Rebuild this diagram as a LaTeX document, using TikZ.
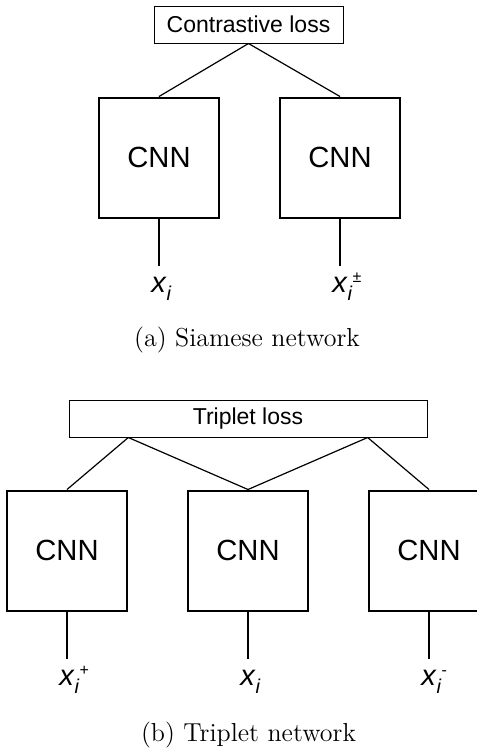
\documentclass[tikz,border=0pt]{standalone}
\usepackage{fontspec}
\usepackage{tikz}
\usetikzlibrary{positioning,calc}
\newfontfamily\arialfont{Liberation Sans}
\newcommand{\inlab}[1]{\textit{x}\rlap{\raisebox{-4pt}{\fontsize{10}{10}\selectfont\textit{i}}\raisebox{5pt}{\fontsize{8}{8}\selectfont #1}}}

\begin{document}
\begin{tikzpicture}[
			x=0.5pt,y=-0.5pt,
			node distance=29.5pt,
			lossbox/.style={
				draw,
				line width=0.5pt,
				inner sep=0pt,
				minimum height=18.5pt,
				font=\arialfont\fontsize{11.5}{13}\selectfont
			},
			cnnbox/.style={
				draw,
				line width=1pt,
				inner sep=0pt,
				minimum width=60pt,
				minimum height=60pt,
				font=\arialfont\fontsize{14.6}{16}\selectfont
			},
			inlabel/.style={
				inner sep=0pt,
				text height=13.5pt,
				text depth=0pt,
				font=\arialfont\fontsize{14.5}{16}\selectfont
			},
			caption/.style={font=\fontsize{13}{15}\selectfont},
			link/.style={line width=0.6pt},
			feed/.style={line width=1pt}
			]
			\useasboundingbox (0,0) rectangle (477,751);
			
			\node[lossbox,minimum width=94.5pt] (closs) at (248.5,24.5) {Contrastive loss};
			
			\node[cnnbox,below=26.5pt of closs,xshift=-44.75pt] (cnnA) {CNN};
			\node[cnnbox,right=of cnnA] (cnnB) {CNN};
			
			\draw[link] (closs.south)--(cnnA.north);
			\draw[link] (closs.south)--(cnnB.north);
			
			\node[inlabel,below=23.5pt of cnnA] (xa) {\inlab{}};
			\node[inlabel,below=23.5pt of cnnB] (xb) {\inlab{±}};
			
			\draw[feed] (cnnA)--(xa);
			\draw[feed] (cnnB)--(xb);
			
			\node[caption] (capa) at (247,340.5) {(a) Siamese network};
			
			\node[lossbox,minimum width=179pt] (tloss) at (248,418.5) {Triplet loss};
			\coordinate (tl) at ($(tloss.south west)!1/6!(tloss.south east)$);
			\coordinate (tr) at ($(tloss.south west)!5/6!(tloss.south east)$);
			
			\node[cnnbox,below=26pt of tloss] (cnnM) {CNN};
			\node[cnnbox,left=of cnnM] (cnnL) {CNN};
			\node[cnnbox,right=of cnnM] (cnnR) {CNN};
			
			\draw[link] (tl)--(cnnL.north);
			\draw[link] (tl)--(cnnM.north);
			\draw[link] (tr)--(cnnM.north);
			\draw[link] (tr)--(cnnR.north);
			
			\node[inlabel,below=23.5pt of cnnL] (xp) {\inlab{+}};
			\node[inlabel,below=23.5pt of cnnM] (xm) {\inlab{}};
			\node[inlabel,below=23.5pt of cnnR] (xn) {\inlab{-}};
			
			\draw[feed] (cnnL)--(xp);
			\draw[feed] (cnnM)--(xm);
			\draw[feed] (cnnR)--(xn);
			
			\node[caption] (capb) at (248.5,735) {(b) Triplet network};
			
		\end{tikzpicture}
\end{document}
